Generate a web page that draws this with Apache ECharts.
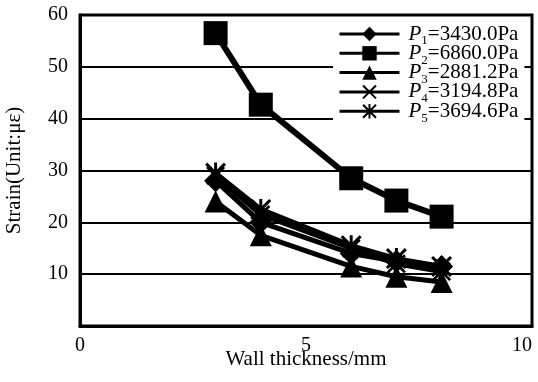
<!DOCTYPE html>
<html><head><meta charset="utf-8">
<script src="https://cdn.jsdelivr.net/npm/echarts@6/dist/echarts.min.js"></script>
<style>html,body{margin:0;padding:0;background:#fff}#c{width:538px;height:382px}</style>
</head><body><div id="c"></div>
<script>
const thickness = [3, 4, 6, 7, 8];
const p1 = [28.0, 20.0, 14.0, 12.5, 11.5];
const p2 = [56.5, 42.7, 28.5, 24.2, 21.1];
const p3 = [24.0, 17.5, 11.5, 9.5, 8.5];
const p4 = [29.0, 21.5, 15.0, 12.0, 10.5];
const p5 = [29.5, 22.5, 15.5, 13.0, 11.5];
const seriesNames = ['P1=3430.0Pa', 'P2=6860.0Pa', 'P3=2881.2Pa', 'P4=3194.8Pa', 'P5=3694.6Pa'];
const xTicks = [0, 5, 10];
const yTicks = [0, 10, 20, 30, 40, 50, 60];

const XMARK = 'path://M0,1L1,0L5,4L9,0L10,1L6,5L10,9L9,10L5,6L1,10L0,9L4,5Z';
const STAR = 'path://M0,1L1,0L5,4L9,0L10,1L6,5L10,9L9,10L5,6L1,10L0,9L4,5ZM4.3,0L5.7,0L5.7,10L4.3,10Z';
const symbols = ['diamond', 'rect', 'triangle', XMARK, STAR];
const sizes = [23, 24, 22, 19, 21];
const values = [p1, p2, p3, p4, p5];
const font = 'Liberation Serif, Times New Roman, serif';

const chart = echarts.init(document.getElementById('c'));
chart.setOption({
  animation: false,
  backgroundColor: '#fff',
  textStyle: { fontFamily: font, color: '#000' },
  grid: { left: 80, right: 6, top: 15, bottom: 56, show: true, borderColor: '#000', borderWidth: 3, backgroundColor: 'transparent', containLabel: false, outerBoundsMode: 'none' },
  legend: {
    left: 333, top: 17, orient: 'vertical',
    backgroundColor: '#fff', padding: [6.5, 6, 13, 5],
    itemWidth: 60, itemHeight: 18, itemGap: -4.7,
    lineStyle: { width: 3 },
    data: seriesNames,
    formatter: function (name) {
      const m = name.match(/^P(\d)(.*)$/);
      return '{i|P}{s|' + m[1] + '}{n|' + m[2] + '}';
    },
    textStyle: {
      fontFamily: font, color: '#000', fontSize: 21, lineHeight: 19,
      rich: {
        i: { fontStyle: 'italic', fontSize: 21, fontFamily: font, lineHeight: 19, padding: [0, 0, 0, 4] },
        s: { fontSize: 13, fontFamily: font, verticalAlign: 'bottom', lineHeight: 13, padding: [0, 0, -4, 0] },
        n: { fontSize: 21, fontFamily: font, lineHeight: 19 }
      }
    }
  },
  xAxis: {
    type: 'value', min: xTicks[0], max: xTicks[xTicks.length - 1], interval: 5,
    name: 'Wall thickness/mm', nameLocation: 'middle', nameGap: 23, nameMoveOverlap: false,
    nameTextStyle: { fontSize: 21, fontFamily: font, color: '#000' },
    axisLine: { show: true, lineStyle: { color: '#000', width: 3 } },
    axisTick: { show: false },
    splitLine: { show: false },
    axisLabel: { fontSize: 20, fontFamily: font, color: '#000', margin: 10, alignMaxLabel: 'right' }
  },
  yAxis: {
    type: 'value', min: yTicks[0], max: yTicks[yTicks.length - 1], interval: 10,
    name: 'Strain(Unit:με)', nameLocation: 'middle', nameGap: 55, nameMoveOverlap: false,
    nameTextStyle: { fontSize: 21, fontFamily: font, color: '#000' },
    axisLine: { show: true, lineStyle: { color: '#000', width: 3 } },
    axisTick: { show: false },
    splitLine: { show: true, lineStyle: { color: '#000', width: 2 } },
    axisLabel: { fontSize: 20, fontFamily: font, color: '#000', margin: 12, showMinLabel: false }
  },
  series: values.map(function (v, k) {
    return {
      name: seriesNames[k], type: 'line',
      data: thickness.map(function (x, j) { return [x, v[j]]; }),
      symbol: symbols[k], symbolSize: sizes[k], showAllSymbol: true,
      lineStyle: { color: '#000', width: k === 1 ? 6 : 5 },
      itemStyle: { color: '#000', borderWidth: 0 },
      z: 2
    };
  })
});
</script></body></html>
